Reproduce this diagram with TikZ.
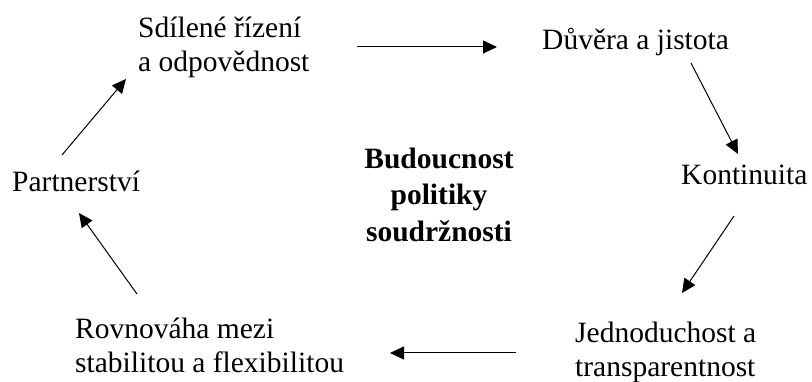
\documentclass[tikz,border=0pt]{standalone}
\usepackage{fontspec}
\setmainfont{Liberation Serif}
\usetikzlibrary{arrows.meta}
\begin{document}
\begin{tikzpicture}[x=1pt,y=-1pt,
  lbl/.style={inner sep=0pt, anchor=base west, font=\fontsize{29.5}{34}\selectfont},
  ctr/.style={inner sep=0pt, anchor=base, font=\fontsize{29.5}{36}\selectfont\bfseries},
  arr/.style={-{Triangle[length=14pt,width=13pt]}, line width=1pt}]
\useasboundingbox (0,0) rectangle (812,382);
% labels
\node[lbl] (sr1) at (138,38) {Sdílené řízení};
\node[lbl] (sr2) at (138,72) {a odpovědnost};
\node[lbl] (dj) at (542,50) {Důvěra a jistota};
\node[lbl] (ko) at (681,185) {Kontinuita};
\node[lbl] (jt1) at (575,342) {Jednoduchost a};
\node[lbl] (jt2) at (575,376) {transparentnost};
\node[lbl] (rm1) at (75,338) {Rovnováha mezi};
\node[lbl] (rm2) at (75,372) {stabilitou a flexibilitou};
\node[lbl] (pa) at (12,192) {Partnerství};
\node[ctr] (c1) at (439,169) {Budoucnost};
\node[ctr] (c2) at (439,205) {politiky};
\node[ctr] (c3) at (439,242) {soudržnosti};
% connector end points
\coordinate (a1s) at (357,47);  \coordinate (a1e) at (497,47);
\coordinate (a2s) at (691,63);  \coordinate (a2e) at (738,154);
\coordinate (a3s) at (734,216); \coordinate (a3e) at (682,293);
\coordinate (a4s) at (516,353); \coordinate (a4e) at (390,353);
\coordinate (a5s) at (137,294); \coordinate (a5e) at (79,213);
\coordinate (a6s) at (62,155);  \coordinate (a6e) at (126,79);
\draw[arr] (a1s) -- (a1e);
\draw[arr] (a2s) -- (a2e);
\draw[arr] (a3s) -- (a3e);
\draw[arr] (a4s) -- (a4e);
\draw[arr] (a5s) -- (a5e);
\draw[arr] (a6s) -- (a6e);
\end{tikzpicture}
\end{document}
